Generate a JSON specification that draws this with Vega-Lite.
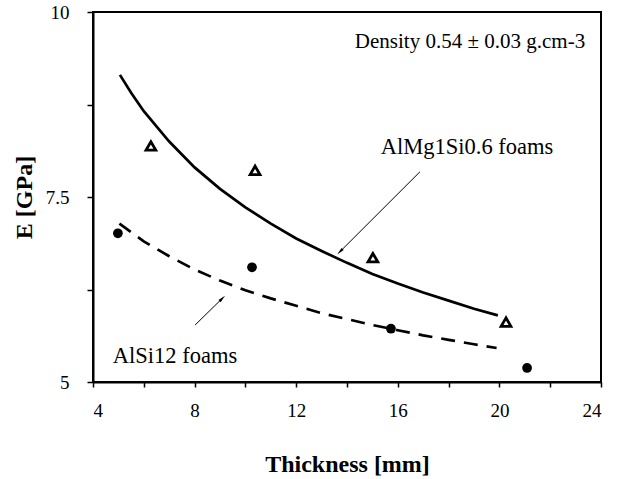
{
  "$schema": "https://vega.github.io/schema/vega-lite/v6.json",
  "width": 508,
  "height": 370,
  "autosize": {"type": "none"},
  "padding": {"left": 93, "top": 12, "right": 16, "bottom": 97},
  "background": "white",
  "config": {
    "view": {"stroke": "black", "strokeWidth": 2},
    "font": "Times New Roman",
    "axis": {
      "domainColor": "black", "domainWidth": 2, "tickColor": "black", "tickWidth": 1.5,
      "labelFont": "Times New Roman", "labelFontSize": 19, "labelColor": "black",
      "titleFont": "Times New Roman", "titleFontSize": 24, "titleFontWeight": "bold", "titleColor": "black",
      "grid": false
    }
  },
  "datasets": {
    "points": [
      {"t": 6.28, "E": 8.19, "series": "AlMg1Si0.6"},
      {"t": 10.38, "E": 7.86, "series": "AlMg1Si0.6"},
      {"t": 15.02, "E": 6.68, "series": "AlMg1Si0.6"},
      {"t": 20.26, "E": 5.81, "series": "AlMg1Si0.6"},
      {"t": 4.98, "E": 7.01, "series": "AlSi12"},
      {"t": 10.26, "E": 6.55, "series": "AlSi12"},
      {"t": 15.73, "E": 5.72, "series": "AlSi12"},
      {"t": 21.09, "E": 5.19, "series": "AlSi12"}
    ],
    "fits": [
      {"t": 5.06, "E": 9.15, "series": "AlMg1Si0.6"},
      {"t": 5.5, "E": 8.91, "series": "AlMg1Si0.6"},
      {"t": 6, "E": 8.66, "series": "AlMg1Si0.6"},
      {"t": 7, "E": 8.25, "series": "AlMg1Si0.6"},
      {"t": 8, "E": 7.9, "series": "AlMg1Si0.6"},
      {"t": 9, "E": 7.61, "series": "AlMg1Si0.6"},
      {"t": 10, "E": 7.36, "series": "AlMg1Si0.6"},
      {"t": 11, "E": 7.14, "series": "AlMg1Si0.6"},
      {"t": 12, "E": 6.94, "series": "AlMg1Si0.6"},
      {"t": 13, "E": 6.77, "series": "AlMg1Si0.6"},
      {"t": 14, "E": 6.61, "series": "AlMg1Si0.6"},
      {"t": 15, "E": 6.46, "series": "AlMg1Si0.6"},
      {"t": 16, "E": 6.33, "series": "AlMg1Si0.6"},
      {"t": 17, "E": 6.21, "series": "AlMg1Si0.6"},
      {"t": 18, "E": 6.1, "series": "AlMg1Si0.6"},
      {"t": 19, "E": 5.99, "series": "AlMg1Si0.6"},
      {"t": 19.94, "E": 5.9, "series": "AlMg1Si0.6"},
      {"t": 5.04, "E": 7.14, "series": "AlSi12"},
      {"t": 6, "E": 6.9, "series": "AlSi12"},
      {"t": 7, "E": 6.7, "series": "AlSi12"},
      {"t": 8, "E": 6.52, "series": "AlSi12"},
      {"t": 9, "E": 6.37, "series": "AlSi12"},
      {"t": 10, "E": 6.24, "series": "AlSi12"},
      {"t": 11, "E": 6.13, "series": "AlSi12"},
      {"t": 12, "E": 6.03, "series": "AlSi12"},
      {"t": 13, "E": 5.93, "series": "AlSi12"},
      {"t": 14, "E": 5.85, "series": "AlSi12"},
      {"t": 15, "E": 5.77, "series": "AlSi12"},
      {"t": 16, "E": 5.7, "series": "AlSi12"},
      {"t": 17, "E": 5.63, "series": "AlSi12"},
      {"t": 18, "E": 5.57, "series": "AlSi12"},
      {"t": 19, "E": 5.51, "series": "AlSi12"},
      {"t": 19.89, "E": 5.46, "series": "AlSi12"}
    ],
    "labels": [
      {"t": 14.31, "E": 9.59, "text": "Density 0.54 ± 0.03 g.cm-3", "kind": "note"},
      {"t": 15.33, "E": 8.17, "text": "AlMg1Si0.6 foams", "kind": "series"},
      {"t": 4.78, "E": 5.35, "text": "AlSi12 foams", "kind": "series"}
    ],
    "arrows": [
      {"t": 16.87, "E": 7.84, "t2": 13.72, "E2": 6.76, "series": "AlMg1Si0.6"},
      {"t": 8.02, "E": 5.77, "t2": 9.09, "E2": 6.13, "series": "AlSi12"}
    ]
  },
  "layer": [
    {
      "data": {"name": "fits"},
      "transform": [{"filter": "datum.series == 'AlMg1Si0.6'"}],
      "mark": {"type": "line", "color": "black", "strokeWidth": 2.7},
      "encoding": {
        "x": {"field": "t", "type": "quantitative", "scale": {"domain": [4, 24], "nice": false, "zero": false},
          "axis": {"title": "Thickness [mm]", "values": [4, 6, 8, 10, 12, 14, 16, 18, 20, 22, 24],
            "labelExpr": "datum.value % 4 == 0 ? datum.label : ''", "tickSize": 5, "labelPadding": 14,
            "titleY": 82, "titleBaseline": "middle"}},
        "y": {"field": "E", "type": "quantitative", "scale": {"domain": [5, 10], "nice": false, "zero": false},
          "axis": {"title": "E [GPa]", "values": [5, 6.25, 7.5, 8.75, 10],
            "labelExpr": "datum.value == 5 ? '5' : datum.value == 7.5 ? '7.5' : datum.value == 10 ? '10' : ''",
            "tickSize": 6, "labelPadding": 18, "titleX": -69, "titleBaseline": "middle"}}
      }
    },
    {
      "data": {"name": "fits"},
      "transform": [{"filter": "datum.series == 'AlSi12'"}],
      "mark": {"type": "line", "color": "black", "strokeWidth": 2.7, "strokeDash": [14, 9]},
      "encoding": {
        "x": {"field": "t", "type": "quantitative"},
        "y": {"field": "E", "type": "quantitative"}
      }
    },
    {
      "data": {"name": "points"},
      "transform": [{"filter": "datum.series == 'AlMg1Si0.6'"}],
      "mark": {"type": "point", "shape": "triangle-up", "filled": false, "color": "black", "strokeWidth": 2.8, "size": 95, "opacity": 1},
      "encoding": {
        "x": {"field": "t", "type": "quantitative"},
        "y": {"field": "E", "type": "quantitative"}
      }
    },
    {
      "data": {"name": "points"},
      "transform": [{"filter": "datum.series == 'AlSi12'"}],
      "mark": {"type": "point", "shape": "circle", "filled": true, "color": "black", "size": 95, "opacity": 1},
      "encoding": {
        "x": {"field": "t", "type": "quantitative"},
        "y": {"field": "E", "type": "quantitative"}
      }
    },
    {
      "data": {"name": "labels"},
      "transform": [{"filter": "datum.kind == 'note'"}],
      "mark": {"type": "text", "align": "left", "baseline": "middle", "fontSize": 21, "font": "Times New Roman", "color": "black"},
      "encoding": {
        "x": {"field": "t", "type": "quantitative"},
        "y": {"field": "E", "type": "quantitative"},
        "text": {"field": "text"}
      }
    },
    {
      "data": {"name": "labels"},
      "transform": [{"filter": "datum.kind == 'series'"}],
      "mark": {"type": "text", "align": "left", "baseline": "middle", "fontSize": 22.5, "font": "Times New Roman", "color": "black"},
      "encoding": {
        "x": {"field": "t", "type": "quantitative"},
        "y": {"field": "E", "type": "quantitative"},
        "text": {"field": "text"}
      }
    },
    {
      "data": {"name": "arrows"},
      "mark": {"type": "rule", "color": "black", "strokeWidth": 1},
      "encoding": {
        "x": {"field": "t", "type": "quantitative"},
        "y": {"field": "E", "type": "quantitative"},
        "x2": {"field": "t2"},
        "y2": {"field": "E2"}
      }
    },
    {
      "data": {"name": "arrows"},
      "transform": [{"filter": "datum.series == 'AlMg1Si0.6'"}],
      "mark": {"type": "point", "shape": "M0,-1L0.4,1L-0.4,1Z", "filled": true, "color": "black", "size": 60, "angle": 225, "opacity": 1},
      "encoding": {
        "x": {"field": "t2", "type": "quantitative"},
        "y": {"field": "E2", "type": "quantitative"}
      }
    },
    {
      "data": {"name": "arrows"},
      "transform": [{"filter": "datum.series == 'AlSi12'"}],
      "mark": {"type": "point", "shape": "M0,-1L0.4,1L-0.4,1Z", "filled": true, "color": "black", "size": 60, "angle": 45, "opacity": 1},
      "encoding": {
        "x": {"field": "t2", "type": "quantitative"},
        "y": {"field": "E2", "type": "quantitative"}
      }
    }
  ]
}
